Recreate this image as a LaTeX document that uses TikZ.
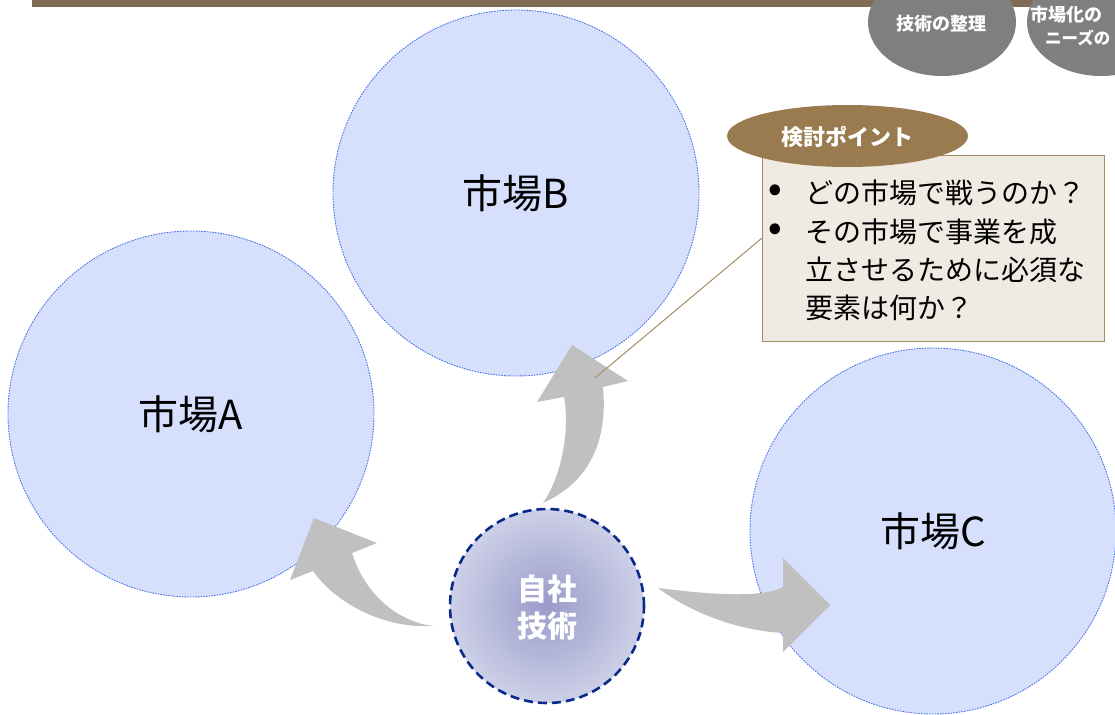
\documentclass[tikz,border=0pt]{standalone}
\usepackage{fontspec}
\setmainfont{Noto Sans CJK JP}
\usetikzlibrary{shapes.geometric}
\definecolor{mkfill}{HTML}{D6E0FD}
\definecolor{mkline}{HTML}{4A72E8}
\definecolor{arrowgray}{HTML}{C0C0C0}
\definecolor{barbrown}{HTML}{7F6C55}
\definecolor{pillgray}{HTML}{7F7F7F}
\definecolor{calloutbrown}{HTML}{9A7B4F}
\definecolor{boxfill}{HTML}{EFEAE2}
\definecolor{boxline}{HTML}{A58C64}
\definecolor{coreline}{HTML}{0A2A8A}
\definecolor{corein}{HTML}{9A9BC9}
\definecolor{coreout}{HTML}{CDD0E8}
\begin{document}
\begin{tikzpicture}[x=1pt,y=-1pt,
  market/.style={circle,minimum size=366pt,inner sep=0pt,fill=mkfill,draw=mkline,
    line width=0.9pt,dash pattern=on 1.6pt off 1.1pt,font=\fontsize{40}{48}\selectfont},
  bigarrow/.style={fill=arrowgray,draw=none},
  pill/.style={ellipse,fill=pillgray,minimum width=148pt,minimum height=108pt,inner sep=0pt},
  pilltext/.style={text=white,font=\bfseries\fontsize{18}{22}\selectfont,inner sep=0pt},
  bullettext/.style={anchor=west,inner sep=0pt,font=\fontsize{28}{34}\selectfont},
  bulletdot/.style={inner sep=0pt,font=\bfseries\fontsize{34}{40}\selectfont}]
\useasboundingbox (0,0) rectangle (1115,714);
\clip (0,0) rectangle (1115,714);
% top bar
\fill[barbrown] (32,0) rectangle (1115,7);
% gray pills
\node[pill] (p1) at (942,22) {};
\node[pilltext] (p1t) at (941,24) {技術の整理};
\node[pill] (p2) at (1101,22) {};
\node[pilltext,anchor=west] (p2a) at (1030,15) {市場化の};
\node[pilltext,anchor=west,font=\bfseries\fontsize{16.5}{20}\selectfont] (p2b) at (1045,38) {ニーズの};
% market circles
\node[market] (mB) at (516,193) {市場B};
\node[market] (mA) at (191,414) {市場A};
\node[market] (mC) at (933,531) {市場C};
% arrows
\fill[bigarrow] (433,626) .. controls (380,629) and (333,600) .. (313,571)
  -- (290,580) -- (314,518) -- (377,543) -- (352,553)
  .. controls (366,597) and (400,622) .. cycle;
\fill[bigarrow] (543,503) .. controls (562,475) and (570,430) .. (564,397)
  -- (537,402) -- (572,345) -- (628,381) -- (603,387)
  .. controls (608,440) and (590,482) .. cycle;
\fill[bigarrow] (658,588) .. controls (720,596) and (765,597) .. (783,587)
  -- (783,558) -- (830,605) -- (783,652) -- (783,633)
  .. controls (735,630) and (690,612) .. cycle;
% core
\node[circle,minimum size=194pt,inner sep=0pt,inner color=corein,outer color=coreout,
  draw=coreline,line width=2.6pt,dash pattern=on 9pt off 5pt] (core) at (547,606) {};
\node[text=white,font=\bfseries\fontsize{30}{37}\selectfont,align=center,inner sep=0pt]
  (coret) at (547,608) {自社\\技術};
% callout
\node[draw=boxline,fill=boxfill,line width=1.3pt,minimum width=342pt,minimum height=186pt,
  inner sep=0pt,anchor=north west] (box) at (762,155) {};
\coordinate (ptr) at (595,378);
\draw[boxline,line width=1pt] (762,238) -- (ptr);
\node[ellipse,fill=calloutbrown,minimum width=241pt,minimum height=62pt,inner sep=0pt]
  (head) at (847.5,136) {};
\node[text=white,font=\bfseries\fontsize{22}{26}\selectfont,inner sep=0pt] (headt)
  at (847,137) {検討ポイント};
\node[bulletdot] (b1) at (775,193) {•};
\node[bulletdot] (b2) at (775,232) {•};
\node[bullettext] (t1) at (805,193) {どの市場で戦うのか？};
\node[bullettext] (t2) at (805,232) {その市場で事業を成};
\node[bullettext] (t3) at (805,270) {立させるために必須な};
\node[bullettext] (t4) at (805,308) {要素は何か？};
\end{tikzpicture}
\end{document}
